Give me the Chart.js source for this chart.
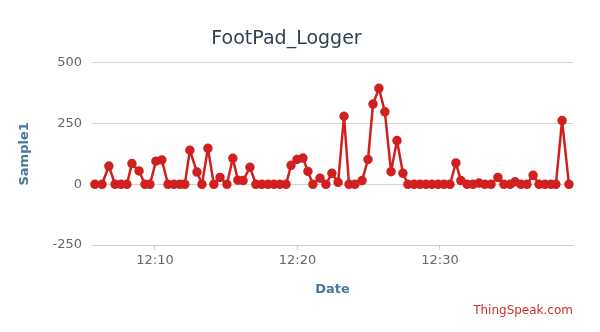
<!DOCTYPE html>
<html>
<head>
<meta charset="utf-8">
<script src="https://cdn.jsdelivr.net/npm/chart.js@4"></script>
<style>
  html, body { margin: 0; background: #fff; }
  #wrap { width: 600px; height: 332px; }
</style>
</head>
<body>
<div id="wrap"><canvas id="chart"></canvas></div>
<script>
// FootPad_Logger feed, field 1
const times = [
  "12:05:47", "12:06:17", "12:06:46", "12:07:12", "12:07:37", "12:08:02", "12:08:23", "12:08:53", "12:09:18", "12:09:39",
  "12:10:04", "12:10:29", "12:10:55", "12:11:20", "12:11:45", "12:12:06", "12:12:27", "12:12:57", "12:13:18", "12:13:43",
  "12:14:08", "12:14:34", "12:15:03", "12:15:28", "12:15:49", "12:16:11", "12:16:40", "12:17:05", "12:17:30", "12:17:56",
  "12:18:21", "12:18:46", "12:19:12", "12:19:33", "12:19:58", "12:20:23", "12:20:44", "12:21:05", "12:21:35", "12:22:00",
  "12:22:25", "12:22:51", "12:23:16", "12:23:37", "12:24:02", "12:24:32", "12:24:57", "12:25:18", "12:25:43", "12:26:08",
  "12:26:34", "12:26:59", "12:27:24", "12:27:45", "12:28:11", "12:28:36", "12:29:01", "12:29:26", "12:29:52", "12:30:17",
  "12:30:42", "12:31:07", "12:31:28", "12:31:54", "12:32:19", "12:32:44", "12:33:09", "12:33:35", "12:34:04", "12:34:29",
  "12:34:55", "12:35:16", "12:35:41", "12:36:06", "12:36:32", "12:36:57", "12:37:22", "12:37:47", "12:38:08", "12:38:34",
  "12:39:03"
];
const sample1 = [
  0, 0, 75, 0, 0, 0, 85, 55, 0, 0,
  95, 100, 0, 0, 0, 0, 140, 50, 0, 148,
  0, 28, 0, 107, 17, 15, 70, 0, 0, 0,
  0, 0, 0, 78, 102, 108, 53, 0, 25, 0,
  45, 8, 280, 0, 0, 15, 102, 330, 395, 298,
  52, 180, 45, 0, 0, 0, 0, 0, 0, 0,
  0, 88, 15, 0, 0, 5, 0, 0, 28, 0,
  0, 10, 0, 0, 37, 0, 0, 0, 0, 262,
  0
];
const xTicks = ["12:10", "12:20", "12:30"];
const xRange = ["12:05:35", "12:39:20"];
const yTicks = [-250, 0, 250, 500];

function toMin(s) {
  const [h, m, sec] = s.split(":").map(Number);
  return (h - 12) * 60 + m + (sec || 0) / 60;
}
function fmt(v) {
  const m = Math.round(v);
  return "12:" + String(m).padStart(2, "0");
}

const credits = {
  id: "credits",
  afterDraw(chart) {
    const ctx = chart.ctx;
    ctx.save();
    ctx.font = "12px 'DejaVu Sans'";
    ctx.fillStyle = "#c8302c";
    ctx.textAlign = "right";
    ctx.textBaseline = "middle";
    ctx.fillText("ThingSpeak.com", 573, 311);
    ctx.restore();
  }
};

new Chart(document.getElementById("chart").getContext("2d"), {
  type: "line",
  data: {
    datasets: [{
      label: "Sample1",
      data: times.map((t, i) => ({ x: toMin(t), y: sample1[i] })),
      borderColor: "#d02020",
      backgroundColor: "#d02020",
      borderWidth: 2.5,
      borderJoinStyle: "round",
      pointRadius: 3.5,
      pointHoverRadius: 4,
      tension: 0,
      clip: false
    }]
  },
  options: {
    responsive: true,
    maintainAspectRatio: false,
    animation: false,
    layout: { padding: { left: 0, right: 27, top: 0, bottom: 0 } },
    plugins: {
      legend: { display: false },
      tooltip: { enabled: false },
      title: {
        display: true,
        text: "FootPad_Logger",
        color: "#2f4254",
        font: { family: "'DejaVu Sans'", size: 19, weight: "normal" },
        padding: { top: 28, bottom: 12 }
      }
    },
    scales: {
      x: {
        type: "linear",
        min: toMin(xRange[0]),
        max: toMin(xRange[1]),
        afterBuildTicks: (s) => { s.ticks = xTicks.map((t) => ({ value: toMin(t) })); },
        afterFit: (s) => { s.height = 87; },
        ticks: { callback: (v) => fmt(v), color: "#666", font: { family: "'DejaVu Sans'", size: 13 }, padding: 3, maxRotation: 0 },
        grid: { drawOnChartArea: false, drawTicks: true, tickLength: 5, color: "#c0d0e0" },
        border: { display: true, color: "#c0d0e0" },
        title: { display: true, text: "Date", color: "#4d759e", font: { family: "'DejaVu Sans'", size: 13, weight: "bold" }, padding: { top: 0, bottom: 35 } }
      },
      y: {
        min: -250,
        max: 500,
        afterBuildTicks: (s) => { s.ticks = yTicks.map((v) => ({ value: v })); },
        afterFit: (s) => { s.width = 92; },
        ticks: { color: "#666", font: { family: "'DejaVu Sans'", size: 13 }, padding: 10 },
        grid: { color: "#d4d4d4", drawTicks: false },
        border: { display: false },
        title: { display: true, text: "Sample1", color: "#4d759e", font: { family: "'DejaVu Sans'", size: 13, weight: "bold" }, padding: { top: 17, bottom: 0 } }
      }
    }
  },
  plugins: [credits]
});
</script>
</body>
</html>
